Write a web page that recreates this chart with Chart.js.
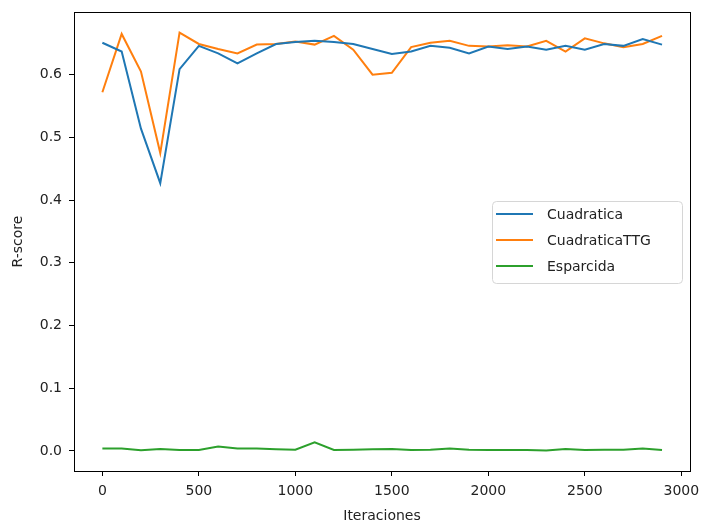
<!DOCTYPE html>
<html>
<head>
<meta charset="utf-8">
<script src="https://cdn.jsdelivr.net/npm/chart.js@4"></script>
<style>
  html, body { margin: 0; padding: 0; background: #fff; }
  #wrap { width: 703px; height: 522px; }
</style>
</head>
<body>
<div id="wrap"><canvas id="myChart" width="703" height="522"></canvas></div>
<script>
const iteraciones = [0,100,200,300,400,500,600,700,800,900,1000,1100,1200,1300,1400,
  1500,1600,1700,1800,1900,2000,2100,2200,2300,2400,2500,2600,2700,2800,2900]
const cuadratica = [0.651,0.637,0.514,0.427,0.609,0.646,0.634,0.618,0.634,0.649,0.652,0.654,0.652,0.649,0.641,
  0.633,0.637,0.646,0.643,0.634,0.645,0.641,0.645,0.640,0.646,0.640,0.649,0.646,0.657,0.648]
const cuadraticaTTG = [0.572,0.665,0.605,0.475,0.667,0.649,0.641,0.634,0.648,0.649,0.653,0.648,0.662,0.640,0.600,
  0.603,0.644,0.651,0.654,0.646,0.645,0.647,0.645,0.654,0.637,0.658,0.650,0.644,0.649,0.662]
const esparcida = [0.004,0.004,0.001,0.003,0.0016,0.0016,0.007,0.0037,0.0037,0.0027,0.002,0.0138,0.0016,0.002,0.0027,
  0.003,0.0016,0.002,0.0037,0.002,0.0016,0.0016,0.0016,0.0005,0.003,0.0016,0.002,0.002,0.0037,0.0016]
const xTicks = [0,500,1000,1500,2000,2500,3000]
const yTicks = [0.0,0.1,0.2,0.3,0.4,0.5,0.6]

const ctx = document.getElementById('myChart')
const font = 'DejaVu Sans'

function toPoints(vals){
  return vals.map((v, i) => ({x: iteraciones[i], y: v}))
}

// box around the whole plot area
const frame = {
  id: 'frame',
  afterDraw(chart){
    const {ctx, chartArea: a} = chart
    ctx.save()
    ctx.strokeStyle = '#000'
    ctx.lineWidth = 1
    ctx.strokeRect(Math.round(a.left) + 0.5, Math.round(a.top) + 0.5,
      Math.round(a.right - a.left), Math.round(a.bottom - a.top))
    ctx.restore()
  }
}

// legend sitting inside the plot, right side
const innerLegend = {
  id: 'innerLegend',
  afterDraw(chart){
    const {ctx} = chart
    const x = 492, y = 201, w = 190, h = 82, r = 4
    ctx.save()
    ctx.fillStyle = 'rgba(255,255,255,0.8)'
    ctx.strokeStyle = '#d6d6d6'
    ctx.lineWidth = 1
    ctx.beginPath()
    ctx.roundRect(x + 0.5, y + 0.5, w, h, r)
    ctx.fill()
    ctx.stroke()
    ctx.font = '14px "' + font + '"'
    ctx.textBaseline = 'middle'
    chart.data.datasets.forEach((ds, i) => {
      const ly = 214 + i * 26
      ctx.strokeStyle = ds.borderColor
      ctx.lineWidth = 2
      ctx.beginPath()
      ctx.moveTo(496, ly)
      ctx.lineTo(533, ly)
      ctx.stroke()
      ctx.fillStyle = '#222'
      ctx.fillText(ds.label, 547, ly + 1)
    })
    ctx.restore()
  }
}

function keepTicks(list){
  return (scale) => { scale.ticks = list.map(v => ({value: v})) }
}

new Chart(ctx, {
  type: 'line',
  data: {
    datasets: [
      {label: 'Cuadratica', data: toPoints(cuadratica), borderColor: '#1f77b4'},
      {label: 'CuadraticaTTG', data: toPoints(cuadraticaTTG), borderColor: '#ff7f0e'},
      {label: 'Esparcida', data: toPoints(esparcida), borderColor: '#2ca02c'}
    ]
  },
  options: {
    responsive: false,
    animation: false,
    devicePixelRatio: 1,
    elements: {
      line: {borderWidth: 2, tension: 0},
      point: {radius: 0, hoverRadius: 0}
    },
    layout: {padding: {left: 0, top: 12, right: 13, bottom: 0}},
    plugins: {legend: {display: false}, tooltip: {enabled: false}},
    scales: {
      x: {
        type: 'linear',
        min: -147,
        max: 3045,
        afterBuildTicks: keepTicks(xTicks),
        afterFit: (s) => { s.height = 51; s.paddingLeft = 0; s.paddingRight = 0 },
        grid: {drawOnChartArea: false, tickLength: 5, tickColor: '#000'},
        border: {color: '#000'},
        ticks: {color: '#222', padding: 7, maxRotation: 0, font: {family: font, size: 14},
          callback: (v) => String(v)},
        title: {display: true, text: 'Iteraciones', color: '#222', padding: {top: 0, bottom: -3},
          font: {family: font, size: 14}}
      },
      y: {
        min: -0.032,
        max: 0.700,
        afterBuildTicks: keepTicks(yTicks),
        afterFit: (s) => { s.width = 74; s.paddingTop = 0; s.paddingBottom = 0 },
        grid: {drawOnChartArea: false, tickLength: 5, tickColor: '#000'},
        border: {color: '#000'},
        ticks: {color: '#222', padding: 7, font: {family: font, size: 14},
          callback: (v) => v.toFixed(1)},
        title: {display: true, text: 'R-score', color: '#222', padding: {top: 10, bottom: 0},
          font: {family: font, size: 14}}
      }
    }
  },
  plugins: [frame, innerLegend]
})
</script>
</body>
</html>
